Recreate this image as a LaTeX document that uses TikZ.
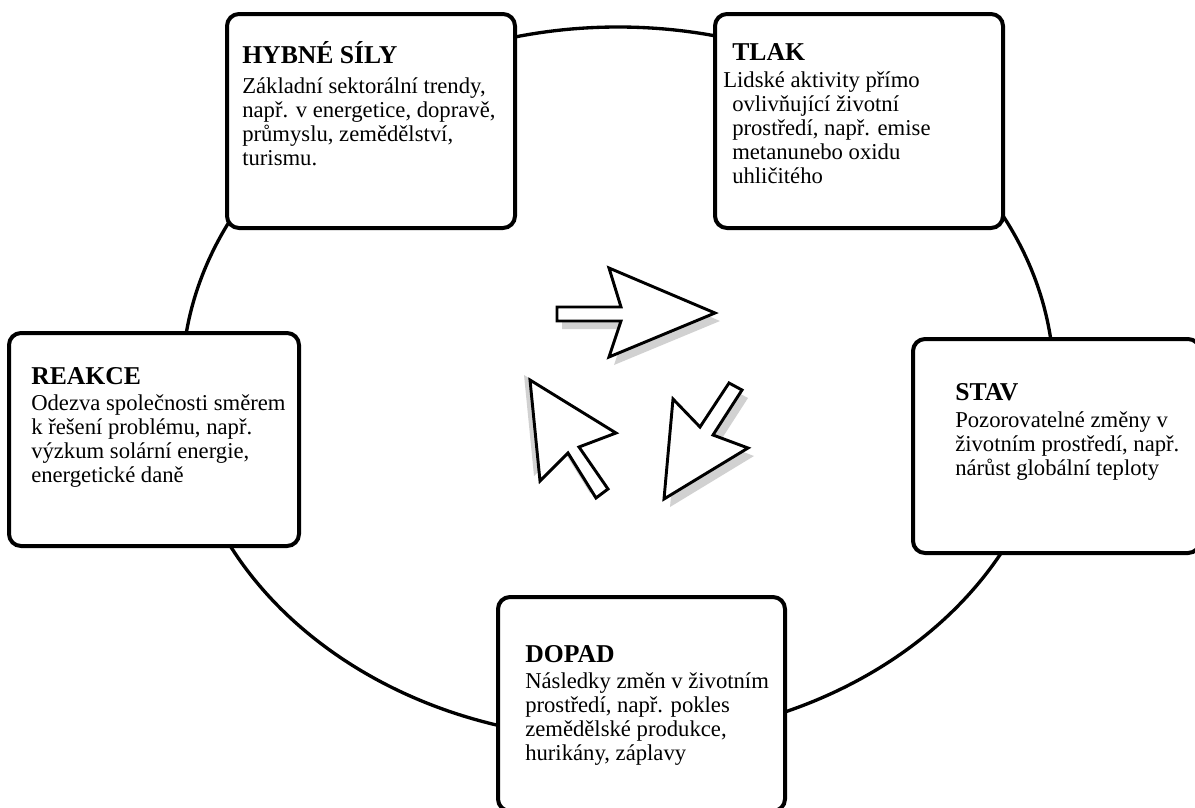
\documentclass[tikz,border=0pt]{standalone}
\usepackage{fontspec}
\setmainfont{Liberation Serif}
\begin{document}
\begin{tikzpicture}[x=0.75pt,y=-0.75pt,
  box/.style={draw, line width=3pt, rounded corners=9pt, fill=white, inner sep=0pt},
  ttl/.style={anchor=base west, inner sep=0pt, font=\fontsize{19.25}{22}\selectfont\bfseries},
  body/.style={anchor=base west, inner sep=0pt, align=left, font=\fontsize{17}{18}\selectfont},
  arr/.style={draw, line width=2.2pt, fill=white, line join=miter},
  shad/.style={fill=black!18, draw=none}]
\useasboundingbox (0,0) rectangle (1195,807);
\begin{scope}
\clip (0,0) rectangle (1195,807);
% cycle
\draw[line width=2.5pt] (618,383) ellipse [x radius=327pt, y radius=267pt];
% boxes
\node[box, minimum width=216pt, minimum height=160.5pt] (drv) at (371,121) {};
\node[box, minimum width=216pt, minimum height=160.5pt] (prs) at (859,121) {};
\node[box, minimum width=217.5pt, minimum height=159.75pt] (rsp) at (154,439.5) {};
\node[box, minimum width=215.25pt, minimum height=160.5pt] (sta) at (1056.5,446) {};
\node[box, minimum width=215.25pt, minimum height=160.5pt] (imp) at (641.5,704) {};
\end{scope}
% texts (body anchor = baseline of last line)
\node[ttl] (drvT) at (242,63) {HYBNÉ SÍLY};
\node[body] (drvB) at (242,165) {Základní sektorální trendy,\\např. v energetice, dopravě,\\průmyslu, zemědělství,\\turismu.};
\node[ttl] (prsT) at (732,60) {TLAK};
\node[body] (prsB) at (723,183) {Lidské aktivity přímo\\\hspace*{6.75pt}ovlivňující životní\\\hspace*{6.75pt}prostředí, např. emise\\\hspace*{6.75pt}metanunebo oxidu\\\hspace*{6.75pt}uhličitého};
\node[ttl] (rspT) at (31,384) {REAKCE};
\node[body] (rspB) at (31,482) {Odezva společnosti směrem\\k řešení problému, např.\\výzkum solární energie,\\energetické daně};
\node[ttl] (staT) at (955,400) {STAV};
\node[body] (staB) at (955,475) {Pozorovatelné změny v\\životním prostředí, např.\\nárůst globální teploty};
\node[ttl] (impT) at (525,662) {DOPAD};
\node[body] (impB) at (525,760) {Následky změn v životním\\prostředí, např. pokles\\zemědělské produkce,\\hurikány, záplavy};
% central arrows: shadows
\fill[shad, shift={(5,8)}] (557,307) -- (621,307) -- (609,268) -- (715,313) -- (609,357) -- (621,321) -- (557,321) -- cycle;
\fill[shad, shift={(-6,-5)}] (530,380) -- (616,433) -- (579,447) -- (608,489) -- (596,498) -- (568,453) -- (540,481) -- cycle;
\fill[shad, shift={(6,8)}] (673,399) -- (700,427) -- (729,383) -- (742,390) -- (713,435) -- (748,448) -- (664,499) -- cycle;
% central arrows
\draw[arr] (557,307) -- (621,307) -- (609,268) -- (715,313) -- (609,357) -- (621,321) -- (557,321) -- cycle;
\draw[arr] (530,380) -- (616,433) -- (579,447) -- (608,489) -- (596,498) -- (568,453) -- (540,481) -- cycle;
\draw[arr] (673,399) -- (700,427) -- (729,383) -- (742,390) -- (713,435) -- (748,448) -- (664,499) -- cycle;
\end{tikzpicture}
\end{document}
